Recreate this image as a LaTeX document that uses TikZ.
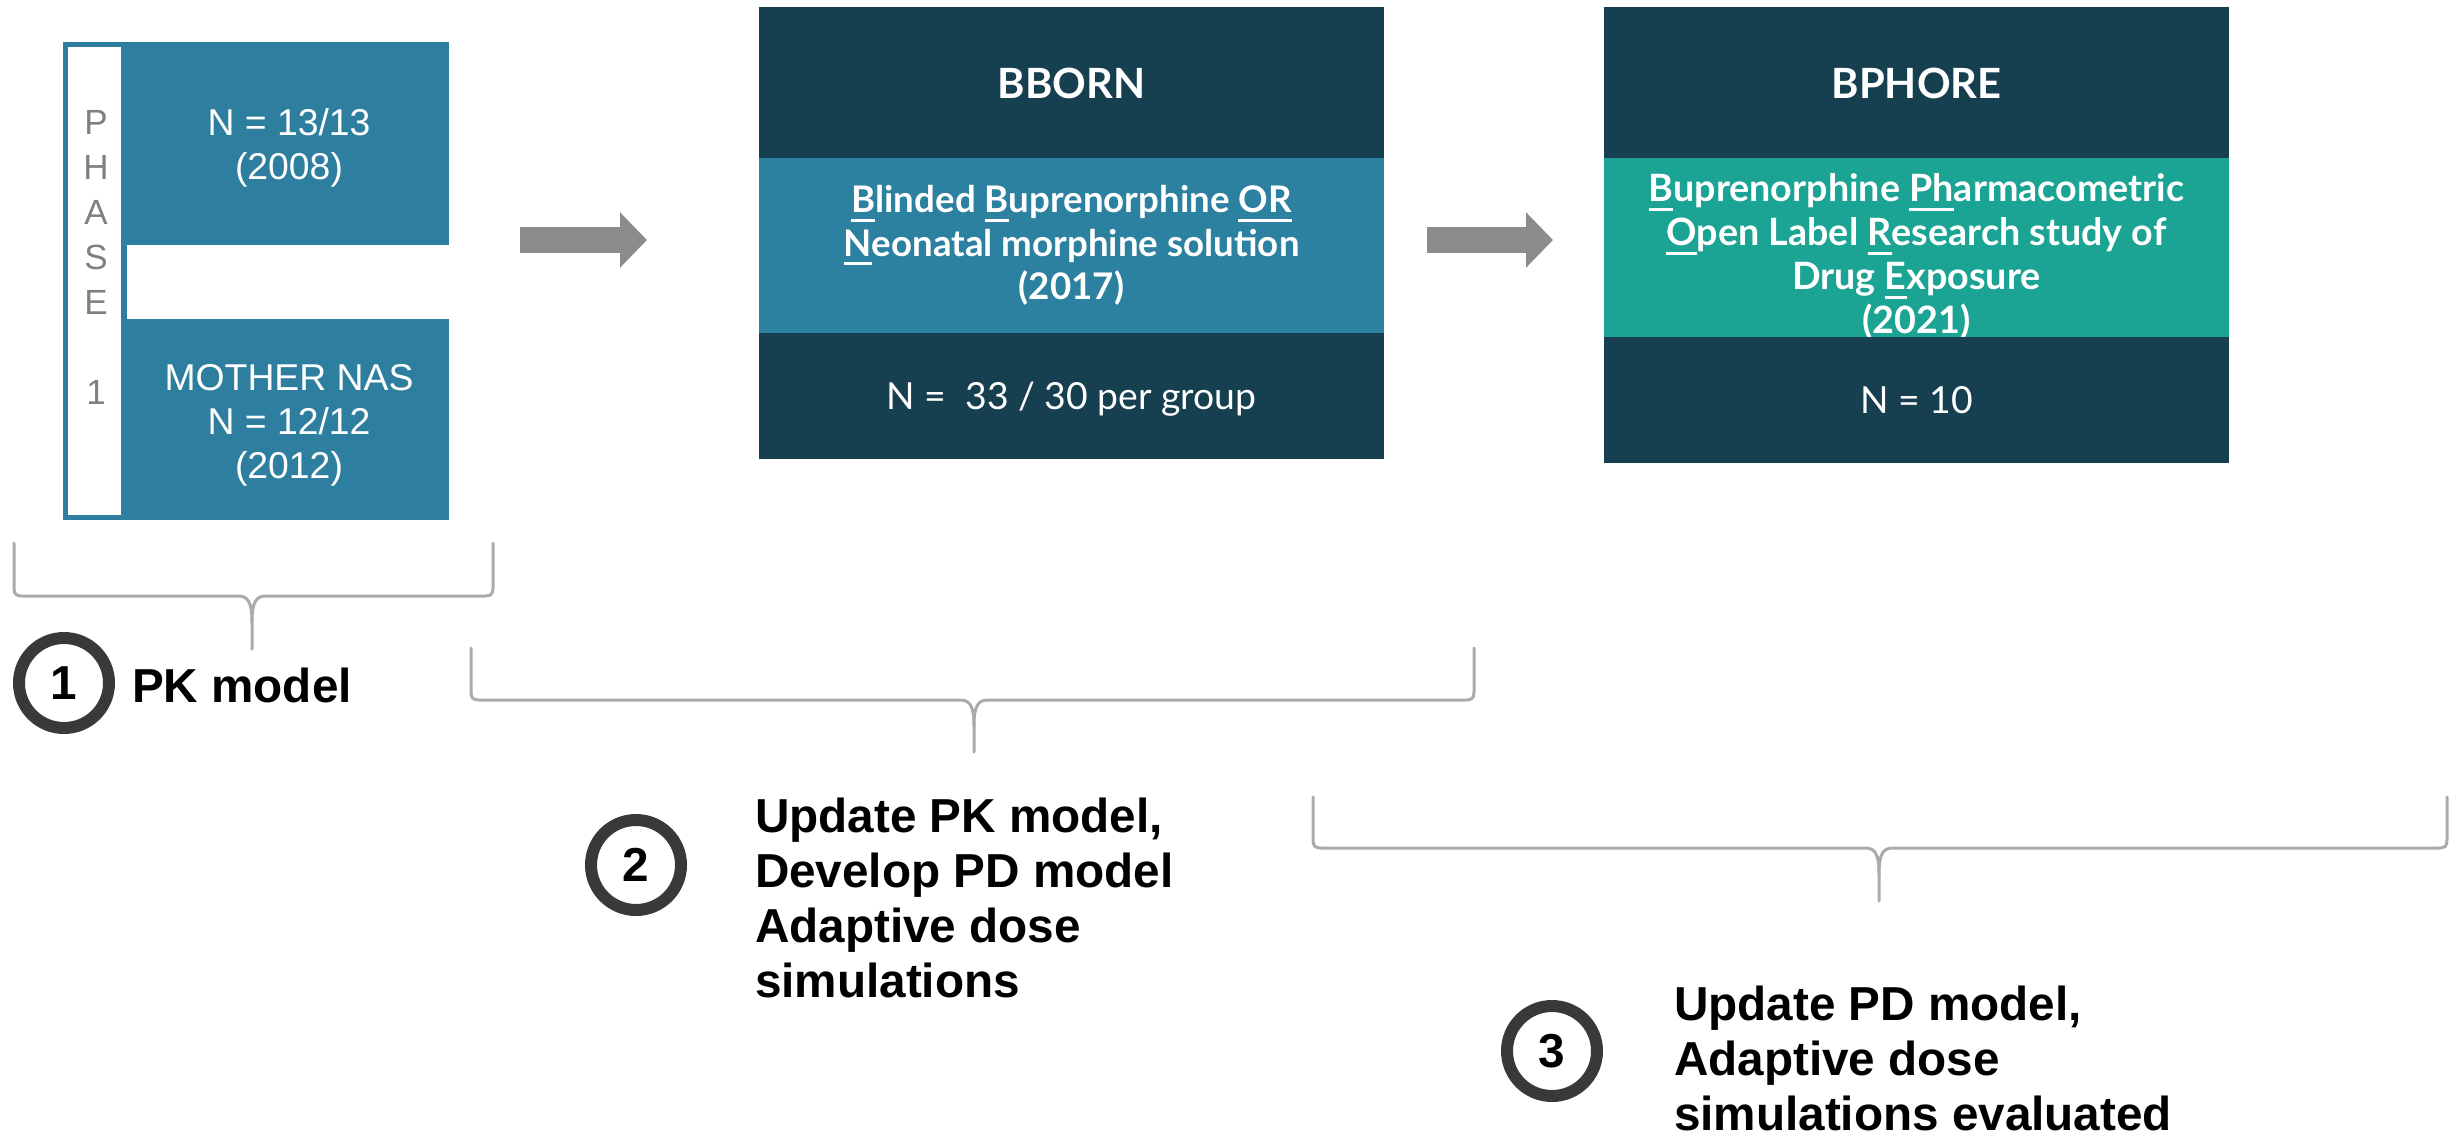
\documentclass[tikz,border=0pt]{standalone}
\usepackage{fontspec}
\setmainfont{Liberation Sans}
\newfontfamily\lato{Lato}
\usetikzlibrary{arrows.meta}
\definecolor{phblue}{HTML}{2E7F9F}
\definecolor{midblue}{HTML}{2C80A0}
\definecolor{darkteal}{HTML}{163F4F}
\definecolor{tealgreen}{HTML}{1BA394}
\definecolor{arrowgrey}{HTML}{8C8C8C}
\definecolor{bracegrey}{HTML}{ABABAB}
\definecolor{ringgrey}{HTML}{3B3839}
\definecolor{phasegrey}{HTML}{808080}
\newcommand\ulx[1]{\setbox0=\hbox{#1}\rlap{\rule[-0.24em]{\wd0}{0.07em}}\box0}
\newcommand\mybrace[6]{%
  \draw[bracestyle] (#1,#3) -- (#1,#4-8) .. controls (#1,#4-2) and (#1+2,#4) .. (#1+8,#4)
     -- (#5-14,#4) .. controls (#5-4,#4) and (#5,#4+6) .. (#5,#4+26) -- (#5,#6);
  \draw[bracestyle] (#2,#3) -- (#2,#4-8) .. controls (#2,#4-2) and (#2-2,#4) .. (#2-8,#4)
     -- (#5+14,#4) .. controls (#5+4,#4) and (#5,#4+6) .. (#5,#4+26);}
\begin{document}
\begin{tikzpicture}[x=0.3pt,y=-0.3pt,
  box/.style={rectangle, inner sep=0pt, outer sep=0pt, minimum width=187.5pt, text=white, align=center},
  titlefont/.style={font={\lato\bfseries\fontsize{12.5pt}{14pt}\selectfont}, text height=9.3pt, text depth=0pt},
  midfont/.style={font={\lato\bfseries\fontsize{11pt}{13pt}\selectfont}},
  midfontb/.style={font={\lato\bfseries\fontsize{11.3pt}{13.2pt}\selectfont}},
  nfont/.style={font={\lato\fontsize{11.2pt}{13pt}\selectfont}, text height=7.8pt, text depth=0pt},
  plain/.style={rectangle, inner sep=0pt, outer sep=0pt},
  phtext/.style={plain, text=white, align=center, font={\fontsize{11.2pt}{13.2pt}\selectfont}},
  ring/.style={circle, draw=ringgrey, line width=3.6pt, minimum size=27pt, inner sep=0pt,
     font={\bfseries\fontsize{14.3pt}{16pt}\selectfont}},
  steptext/.style={plain, align=left, font={\bfseries\fontsize{14.3pt}{16.5pt}\selectfont}},
  blockarrow/.style={draw=arrowgrey, line width=7.8pt, line cap=butt,
     -{Triangle[length=8.1pt,width=16.2pt]}},
  bracestyle/.style={draw=bracegrey, line width=0.9pt, line cap=round}]
\useasboundingbox (0,0) rectangle (2453,1137);

% Phase 1 block
\node[plain, fill=phblue, minimum width=115.8pt, minimum height=143.4pt] (p1) at (256,281) {};
\node[plain, fill=white, minimum width=15.9pt, minimum height=140.4pt] (p1strip) at (94.5,281) {};
\node[plain, fill=white, minimum width=97.2pt, minimum height=22.2pt] (p1gap) at (289,282) {};
\node[plain, align=center, text=phasegrey, font={\fontsize{10.5pt}{13.5pt}\selectfont}] (p1phase) at (96,257.5) {P\\H\\A\\S\\E\\[13.5pt]1};
\node[phtext] (p1a) at (289,148) {N = 13/13\\(2008)};
\node[phtext] (p1b) at (289,425) {MOTHER NAS\\N = 12/12\\(2012)};

% BBORN
\node[box, fill=darkteal, minimum height=45.3pt, titlefont] (bbT) at (1071.5,82.5) {BBORN};
\node[box, fill=midblue, minimum height=52.5pt, midfont] (bbM) at (1071.5,245.5)
  {\ulx{B}linded \ulx{B}uprenorphine \ulx{OR}\\\ulx{N}eonatal morphine solution\\(2017)};
\node[box, fill=darkteal, minimum height=37.8pt, nfont] (bbB) at (1071.5,396) {N =\ \ 33 / 30 per group};

% BPHORE
\node[box, fill=darkteal, minimum height=45.3pt, titlefont] (bpT) at (1916.5,82.5) {BPHORE};
\node[box, fill=tealgreen, minimum height=53.7pt] (bpM) at (1916.5,247.5) {};
\node[plain, text=white, align=center, midfontb] (bpMtext) at (1916.5,256.5)
  {\ulx{B}uprenorphine \ulx{Ph}armacometric\\\ulx{O}pen Label \ulx{R}esearch study of\\Drug \ulx{E}xposure\\(2021)};
\node[box, fill=darkteal, minimum height=37.8pt, nfont] (bpB) at (1916.5,400) {N = 10};

% arrows
\coordinate (a1s) at (520,240);
\coordinate (a1e) at (647,240);
\coordinate (a2s) at (1427,240);
\coordinate (a2e) at (1553,240);
\draw[blockarrow] (a1s) -- (a1e);
\draw[blockarrow] (a2s) -- (a2e);

% braces
\mybrace{14}{493}{543}{596}{252}{649}
\mybrace{471}{1474}{648}{700}{974}{752}
\mybrace{1313}{2447}{797}{848}{1879}{901}

% steps
\node[ring] (c1) at (64,683) {1};
\node[steptext, anchor=base west] (t1) at (132,702) {PK model};
\node[ring] (c2) at (636,865) {2};
\node[steptext, anchor=north west] (t2) at (755,798) {Update PK model,\\Develop PD model\\Adaptive dose\\simulations};
\node[ring] (c3) at (1552,1051) {3};
\node[steptext, anchor=north west] (t3) at (1674,986) {Update PD model,\\Adaptive dose\\simulations evaluated};
\end{tikzpicture}
\end{document}
